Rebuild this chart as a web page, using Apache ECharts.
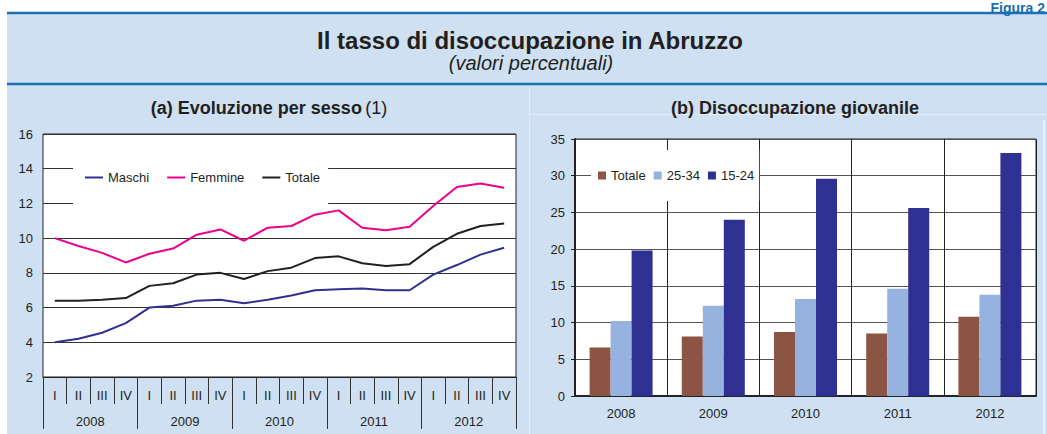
<!DOCTYPE html>
<html><head><meta charset="utf-8">
<script src="https://cdn.jsdelivr.net/npm/echarts@6/dist/echarts.min.js"></script>
<style>html,body{margin:0;padding:0;background:#fff}#c{width:1047px;height:434px}</style>
</head><body><div id="c"></div>
<script>
// ---- data ----
const quarters = ['I','II','III','IV','I','II','III','IV','I','II','III','IV','I','II','III','IV','I','II','III','IV'];
const years = ['2008','2009','2010','2011','2012'];
const maschi  = [4.0,4.2,4.55,5.1, 6.0,6.1,6.4,6.45, 6.25,6.45,6.7,7.0, 7.05,7.1,7.0,7.0, 7.9,8.45,9.05,9.45];
const femmine = [10.0,9.55,9.15,8.6, 9.1,9.4,10.2,10.5, 9.85,10.6,10.7,11.35, 11.6,10.6,10.45,10.65, 11.85,12.95,13.15,12.9];
const totale  = [6.4,6.4,6.45,6.55, 7.25,7.4,7.9,8.0, 7.65,8.1,8.3,8.85, 8.95,8.55,8.4,8.5, 9.5,10.25,10.7,10.85];
const giovTotale = [6.6,8.1,8.7,8.5,10.8];
const giov2534   = [10.2,12.3,13.2,14.6,13.8];
const giov1524   = [19.8,24.0,29.6,25.6,33.1];

const FONT = '"Liberation Sans", Arial, Helvetica, sans-serif';
const TXT = '#231f20';
const BG = '#cee0f1';
const BLUE = '#1b6fb5';

const chart = echarts.init(document.getElementById('c'), null, {renderer:'svg'});
const axisLbl = (m) => ({fontSize:13, color:TXT, fontFamily:FONT, margin:m});

chart.setOption({
  animation:false,
  textStyle:{fontFamily:FONT},
  graphic:[
    {type:'rect', z:-100, silent:true, shape:{x:7,y:13,width:1040,height:421}, style:{fill:BG}},
    {type:'line', z:-90, silent:true, shape:{x1:529.5,y1:86,x2:529.5,y2:434}, style:{stroke:'#e2ecf7', lineWidth:1}},
    {type:'line', z:-90, silent:true, shape:{x1:530,y1:114.5,x2:1047,y2:114.5}, style:{stroke:'#e2ecf7', lineWidth:1}},
    {type:'line', z:-90, silent:true, shape:{x1:1044,y1:120,x2:1044,y2:434}, style:{stroke:'#e8f0f9', lineWidth:2}},
    {type:'line', silent:true, shape:{x1:7,y1:13,x2:1047,y2:13}, style:{stroke:BLUE, lineWidth:2.5}},
    {type:'line', silent:true, shape:{x1:7,y1:84,x2:1047,y2:84}, style:{stroke:BLUE, lineWidth:2.5}},
    {type:'text', x:1045, y:1, style:{text:'Figura 2', font:'bold 14px '+FONT, fill:BLUE, align:'right', verticalAlign:'top', textAlign:'right', textVerticalAlign:'top'}},
    {type:'text', x:530, y:40, style:{text:'Il tasso di disoccupazione in Abruzzo', font:'bold 24px '+FONT, fill:TXT, align:'center', verticalAlign:'middle', textAlign:'center', textVerticalAlign:'middle'}},
    {type:'text', x:531, y:63, style:{text:'(valori percentuali)', font:'italic 20px '+FONT, fill:TXT, align:'center', verticalAlign:'middle', textAlign:'center', textVerticalAlign:'middle'}},
    {type:'text', x:269, y:108, style:{text:'{b|(a) Evoluzione per sesso} {n|(1)}', rich:{b:{font:'bold 18px '+FONT, fill:TXT}, n:{font:'18px '+FONT, fill:TXT}}, align:'center', verticalAlign:'middle', textAlign:'center', textVerticalAlign:'middle'}},
    {type:'text', x:795, y:108, style:{text:'(b) Disoccupazione giovanile', font:'bold 18px '+FONT, fill:TXT, align:'center', verticalAlign:'middle', textAlign:'center', textVerticalAlign:'middle'}}
  ],
  grid:[
    {left:43, top:134, width:473, height:243, show:true, backgroundColor:'#fff', borderColor:'#222', borderWidth:1},
    {left:575, top:139, width:461, height:257, show:true, backgroundColor:'#fff', borderColor:'#222', borderWidth:1}
  ],
  legend:[
    {data:['Maschi','Femmine','Totale'], left:73, top:163, orient:'horizontal', icon:'rect', itemWidth:18, itemHeight:2, itemGap:18,
     padding:[8,8,22,12], backgroundColor:'#fff', textStyle:{fontSize:13, color:TXT, fontFamily:FONT}, selectedMode:false},
    {data:['Totale (b)','25-34','15-24'], left:591, top:150, orient:'horizontal', icon:'rect', itemWidth:8, itemHeight:8, itemGap:8,
     padding:[19,5,19,7], backgroundColor:'#fff', textStyle:{fontSize:13, color:TXT, fontFamily:FONT}, selectedMode:false,
     formatter:(n)=>n.replace(' (b)','')}
  ],
  xAxis:[
    {gridIndex:0, type:'category', data:quarters, boundaryGap:true, position:'bottom',
     axisLine:{show:true, lineStyle:{color:'#222', width:1}},
     axisTick:{show:true, interval:0, length:27, lineStyle:{color:'#333'}},
     axisLabel:Object.assign({interval:0}, axisLbl(12)), splitLine:{show:false}},
    {gridIndex:0, type:'category', data:years, boundaryGap:true, position:'bottom', offset:0,
     axisLine:{show:false},
     axisTick:{show:true, interval:0, length:52, lineStyle:{color:'#333'}},
     axisLabel:Object.assign({interval:0}, axisLbl(38)), splitLine:{show:false}},
    {gridIndex:1, type:'category', data:years, boundaryGap:true, position:'bottom',
     axisLine:{show:true, lineStyle:{color:'#222', width:2}},
     axisTick:{show:false},
     axisLabel:Object.assign({interval:0}, axisLbl(11)),
     splitLine:{show:true, interval:0, lineStyle:{color:'#222', width:1}}}
  ],
  yAxis:[
    {gridIndex:0, type:'value', min:2, max:16, interval:2,
     axisLine:{show:false}, axisTick:{show:false},
     axisLabel:axisLbl(10), splitLine:{show:true, lineStyle:{color:'#333', width:1}}},
    {gridIndex:1, type:'value', min:0, max:35, interval:5,
     axisLine:{show:true, lineStyle:{color:'#222', width:2}}, axisTick:{show:true, length:4, lineStyle:{color:'#222'}},
     axisLabel:axisLbl(10), splitLine:{show:true, lineStyle:{color:'#555', width:1}}}
  ],
  series:[
    {name:'Maschi', type:'line', xAxisIndex:0, yAxisIndex:0, data:maschi, symbol:'none', color:'#2e3192', lineStyle:{width:2, color:'#2e3192'}},
    {name:'Femmine', type:'line', xAxisIndex:0, yAxisIndex:0, data:femmine, symbol:'none', color:'#ec008c', lineStyle:{width:2, color:'#ec008c'}},
    {name:'Totale', type:'line', xAxisIndex:0, yAxisIndex:0, data:totale, symbol:'none', color:'#231f20', lineStyle:{width:2, color:'#231f20'}},
    {name:'Totale (b)', type:'bar', xAxisIndex:2, yAxisIndex:1, data:giovTotale, barWidth:21, barGap:'0%', color:'#8c5543'},
    {name:'25-34', type:'bar', xAxisIndex:2, yAxisIndex:1, data:giov2534, barWidth:21, barGap:'0%', color:'#95b3de'},
    {name:'15-24', type:'bar', xAxisIndex:2, yAxisIndex:1, data:giov1524, barWidth:21, barGap:'0%', color:'#2e3192'}
  ]
});
</script>
</body></html>
